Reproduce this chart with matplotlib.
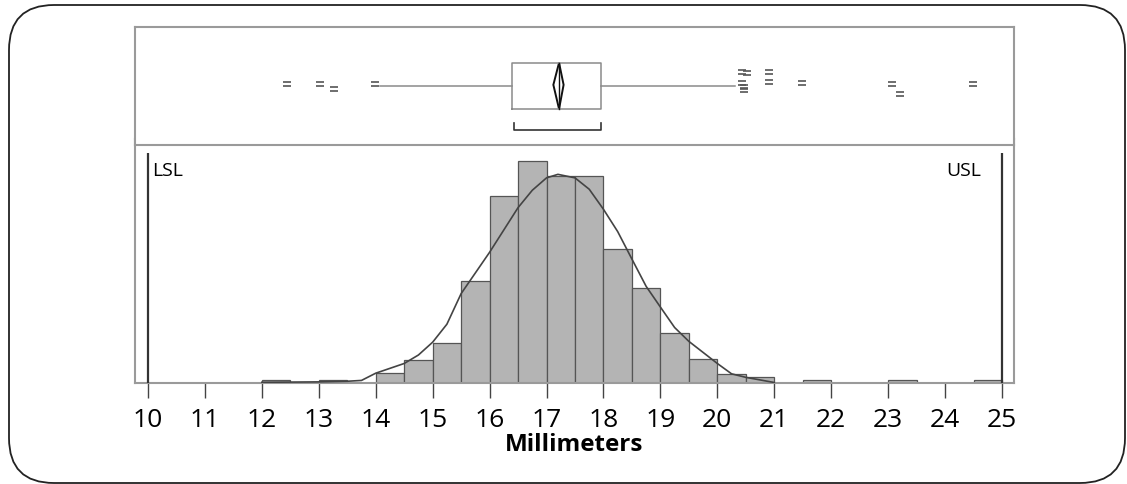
import numpy as np
import matplotlib
matplotlib.use("Agg")
import matplotlib.pyplot as plt
from matplotlib.patches import FancyBboxPatch, Polygon
from matplotlib.path import Path

plt.rcParams['font.family'] = ['Open Sans', 'DejaVu Sans']

# histogram (bin left edges, width 0.5 mm) and counts
bin_left = [12.0, 12.5, 13.0, 13.5, 14.0, 14.5, 15.0, 15.5, 16.0, 16.5, 17.0, 17.5,
            18.0, 18.5, 19.0, 19.5, 20.0, 20.5, 21.0, 21.5, 22.0, 22.5, 23.0, 23.5, 24.0, 24.5]
counts = [1, 0, 1, 0, 4.5, 11, 19, 49, 90, 107, 100, 100,
          64.5, 45.5, 24, 11.5, 4, 2.5, 0, 1, 0, 0, 1, 0, 0, 1]

# fitted curve, read as a polyline
curve_x = [12.0, 13.0, 13.5, 13.75, 14.0, 14.5, 14.75, 15.0, 15.25, 15.5, 16.0, 16.5,
           16.75, 17.0, 17.2, 17.5, 17.75, 18.0, 18.25, 18.5, 18.75, 19.0, 19.25, 19.5,
           20.0, 20.25, 20.5, 21.0]
curve_y = [0.1, 0.3, 0.6, 1.0, 4.5, 9.2, 13.3, 19.5, 28.2, 43.0, 63.0, 84.6,
           93.0, 99.0, 100.7, 99.0, 93.5, 83.8, 73.0, 59.7, 46.5, 36.5, 26.6, 19.9,
           9.2, 4.2, 2.5, 0.0]

# box plot summary
q1, median, q3 = 16.40, 17.22, 17.96
whisker_lo, whisker_hi = 14.08, 20.31
mean_lo, mean_hi = 17.12, 17.30
short_half = (16.43, 17.96)
outliers_x = [12.44, 13.02, 13.26, 13.98, 20.43, 20.52, 20.43, 20.47, 20.47,
              20.91, 20.91, 21.48, 23.06, 23.20, 24.49]
outliers_jit = [0.517, 0.517, 0.472, 0.517, 0.621, 0.608, 0.528, 0.494, 0.466,
                0.621, 0.536, 0.528, 0.517, 0.432, 0.517]

LSL, USL = 10, 25
ticks = list(range(10, 26))

W, H = 1127, 484
fig = plt.figure(figsize=(W / 100, H / 100), dpi=100)

# outer rounded frame
bg = fig.add_axes([0, 0, 1, 1])
bg.set_xlim(0, W)
bg.set_ylim(H, 0)
bg.axis('off')
bg.add_patch(FancyBboxPatch((9, 5), 1116, 478, boxstyle="round,pad=0,rounding_size=45",
                            fc='white', ec='#222222', lw=1.3))

xlim = (9.772, 25.202)
left, width = 135 / W, 878.5 / W
ax = fig.add_axes([left, 101.5 / H, width, 243.5 / H])
axb = fig.add_axes([left, 339 / H, width, 118 / H])

# histogram
ax.bar(bin_left, counts, width=0.5, align='edge', color='#b4b4b4',
       edgecolor='#555555', linewidth=0.9, zorder=2)
ax.plot(curve_x, curve_y, color='#444444', lw=1.2, zorder=3)
ax.set_xlim(*xlim)
ax.set_ylim(0, 117.8)
ax.vlines([LSL, USL], 0, 111.2, color='#333333', lw=1.6, zorder=4)
ax.text(LSL + 0.08, 102.5, "LSL", fontsize=14, ha='left', va='center')
ax.text(USL - 0.37, 102.5, "USL", fontsize=14, ha='right', va='center')
ax.set_yticks([])
ax.set_xticks(ticks)
ax.set_xticklabels([str(t) for t in ticks], fontsize=19)
ax.tick_params(axis='x', direction='out', length=10.5, width=1, color='#444444', pad=8)
ax.set_xlabel("Millimeters", fontsize=17.5, fontweight='bold', labelpad=0)
for s in ax.spines.values():
    s.set_color('#9a9a9a')
    s.set_linewidth(1.5)

# box plot
axb.set_xlim(*xlim)
axb.set_ylim(0, 1)
axb.set_xticks([])
axb.set_yticks([])
for s in axb.spines.values():
    s.set_color('#9a9a9a')
    s.set_linewidth(1.5)
gray = '#8a8a8a'
axb.plot([q1, q3, q3, q1, q1], [0.305, 0.305, 0.697, 0.697, 0.305], color=gray, lw=1.1)
axb.plot([whisker_lo, q1], [0.5, 0.5], color=gray, lw=1.1)
axb.plot([q3, whisker_hi], [0.5, 0.5], color=gray, lw=1.1)
axb.add_patch(Polygon([(median, 0.697), (mean_lo, 0.51), (median, 0.305), (mean_hi, 0.51)],
                      closed=True, fill=False, ec='#111111', lw=1.4))
axb.plot([median, median], [0.305, 0.697], color='#111111', lw=1.0)
axb.plot([short_half[0], short_half[0], short_half[1], short_half[1]],
         [0.184, 0.127, 0.127, 0.184], color='#333333', lw=1.2)
eq = Path([(-1, 0.4), (1, 0.4), (-1, -0.4), (1, -0.4)],
          [Path.MOVETO, Path.LINETO, Path.MOVETO, Path.LINETO])
axb.plot(outliers_x, outliers_jit, ls='none', marker=eq, markersize=6,
         mec='#555555', mew=1.2)

fig.savefig("out.png", dpi=100)
